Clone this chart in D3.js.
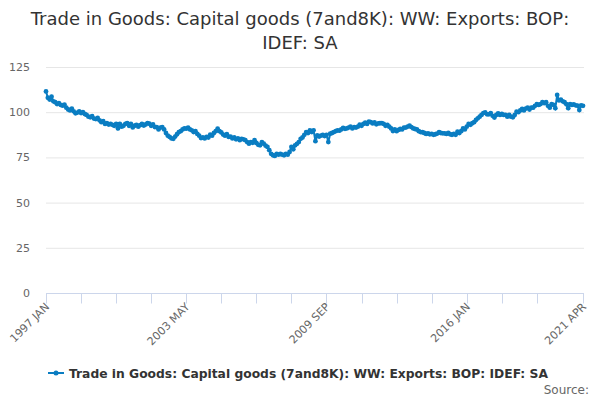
<!DOCTYPE html>
<html><head><meta charset="utf-8">
<script src="https://cdn.jsdelivr.net/npm/d3@7"></script>
<style>body{margin:0;background:#fff}svg{font-family:"DejaVu Sans",Verdana,sans-serif}</style>
</head><body><svg id="c" width="600" height="400"></svg>
<script>
const titleLines = ["Trade in Goods: Capital goods (7and8K): WW: Exports: BOP:", "IDEF: SA"];
const seriesName = "Trade in Goods: Capital goods (7and8K): WW: Exports: BOP: IDEF: SA";
const startYear = 1997;
const monthNames = ["JAN","FEB","MAR","APR","MAY","JUN","JUL","AUG","SEP","OCT","NOV","DEC"];
const yTicks = [0, 25, 50, 75, 100, 125];
const labelIndices = [0, 76, 152, 228, 291];
const values = [
 111.5,108,107,108.6,106,105.5,104.5,105,104,103.6,104.2,102.5,
 101.5,101,102,100.5,99.4,99.8,100.5,99.5,100,99,98.5,97.5,
 97.2,97.8,96.5,96.2,96.8,95.5,94.5,95,93.5,94,93.2,93.5,
 93,92.5,93.5,91,93.5,92,92.5,93.5,94,92.5,93.5,91.6,
 92.5,93,92,92.8,93.5,92.6,93.2,94,93.6,92.5,93.2,91.8,
 91.8,90.5,91.5,91.8,90.5,88.5,87,86.3,85.5,85.3,86.5,87.8,
 89,89.5,90.5,91,90.9,91.5,90.5,90,89,89.5,88,87,
 85.7,86,85.5,86.3,86,87.6,87,88.5,89.5,90.9,89.5,88.8,
 87.6,87,87.8,86.3,86.5,85.5,86,85,85.5,84.5,85.3,85,
 84.5,83.5,82.6,83.5,83.1,84.5,83,82,81.7,83.5,82.6,81.5,
 80.8,79,77,76.2,75.8,77,76.5,77,76.5,76.2,77,76.5,
 78,80.8,79.5,81.7,82.5,83.5,85.3,86,87.5,89,88.5,90,
 89,90,84,87.2,86.5,87,87.5,86.8,87.5,83.5,88.1,88.5,
 89,89.5,90,89.8,90.5,91.3,90.8,91,91.5,92,91,91.8,
 91.5,92,93.1,92.5,93.5,94.2,93.5,94.8,94.5,93.8,94.3,93.3,
 93.8,93.9,94,93.5,92.5,93,92,91,89.6,90.5,89.5,90.2,
 90.7,90.5,91.5,91.5,92,92.5,91.8,91,90.7,90.5,89.5,89,
 88.9,88.5,88,88.3,87.8,88,87.5,87.8,88.2,88.9,88.5,88.3,
 88.3,88,88.5,87.8,87.5,88,87.5,89.2,88.5,89.5,91,90.5,
 92,93.5,93,93.9,94.5,95.7,96.6,97.5,98.5,99.5,99.9,98.8,
 98.8,99.5,98,97,98.5,99.4,98.5,99,98.5,98.5,97.5,98.5,
 97.5,97.2,98.5,100.3,100,101,101.8,101,102,102.5,101.5,102.5,
 102.5,103.5,104.4,104,104.5,105.5,105,105.5,103.5,102.5,104.5,104,
 102.2,109.5,106.5,107,106,105.5,104.4,102.2,104.5,104,104.3,103.8,
 103.6,101.2,103.8,103.5
];
const categories = values.map((v,i)=> (startYear + Math.floor(i/12)) + " " + monthNames[i%12]);

const svg = d3.select("#c");
const plotLeft = 46, plotRight = 583, plotTop = 67, plotBottom = 293;
const x = d3.scaleLinear().domain([0, values.length-1]).range([plotLeft, plotRight]);
const y = d3.scaleLinear().domain([0, 125]).range([plotBottom, plotTop]);

svg.append("g").selectAll("text").data(titleLines).join("text")
  .attr("x", 300).attr("y", (d,i)=>25+i*24).attr("text-anchor","middle")
  .attr("font-size", 18).attr("fill", "#333").text(d=>d);

// grid
svg.append("g").selectAll("line").data(yTicks.filter(t=>t>0)).join("line")
  .attr("x1", plotLeft).attr("x2", plotRight+1).attr("y1", d=>y(d)+0.5).attr("y2", d=>y(d)+0.5)
  .attr("stroke", "#e6e6e6");
svg.append("g").selectAll("text").data(yTicks).join("text")
  .attr("x", 30).attr("y", d=>y(d)+4).attr("text-anchor","end")
  .attr("font-size", 11).attr("fill", "#666").text(d=>d);

// x axis
const tickIdx = d3.range(0, values.length - 10, 19).concat([values.length-1]);
const xa = svg.append("g").attr("transform", `translate(0,${plotBottom+0.5})`);
xa.append("line").attr("x1", plotLeft).attr("x2", plotRight+1).attr("stroke", "#ccd6eb");
xa.selectAll("line.t").data(tickIdx).join("line").attr("class","t")
  .attr("x1", d=>Math.round(x(d))+0.5).attr("x2", d=>Math.round(x(d))+0.5)
  .attr("y1", 0).attr("y2", 10).attr("stroke", "#ccd6eb");
xa.selectAll("text").data(labelIndices).join("text")
  .attr("transform", d=>`translate(${x(d)+4},${14}) rotate(-45)`)
  .attr("text-anchor","end").attr("font-size", 11).attr("fill", "#666")
  .text(d=>categories[d]);

// line
const line = d3.line().x((d,i)=>x(i)).y(d=>y(d));
svg.append("path").datum(values).attr("d", line).attr("fill","none")
  .attr("stroke", "#0a7dc2").attr("stroke-width", 2);
svg.append("g").selectAll("circle").data(values).join("circle")
  .attr("cx", (d,i)=>x(i)).attr("cy", d=>y(d)).attr("r", 2.4).attr("fill", "#0a7dc2");

// legend
const lg = svg.append("g").attr("transform", "translate(0,373)");
lg.append("line").attr("x1", 48).attr("x2", 64).attr("y1", 0).attr("y2", 0)
  .attr("stroke", "#0a7dc2").attr("stroke-width", 2);
lg.append("circle").attr("cx", 56).attr("cy", 0).attr("r", 2.5).attr("fill", "#0a7dc2");
lg.append("text").attr("x", 69).attr("y", 4.5).attr("font-size", 12.3).attr("font-weight","bold")
  .attr("fill", "#333").text(seriesName);

svg.append("text").attr("x", 589).attr("y", 394).attr("text-anchor","end")
  .attr("font-size", 12).attr("fill", "#666").text("Source:");
</script></body></html>
